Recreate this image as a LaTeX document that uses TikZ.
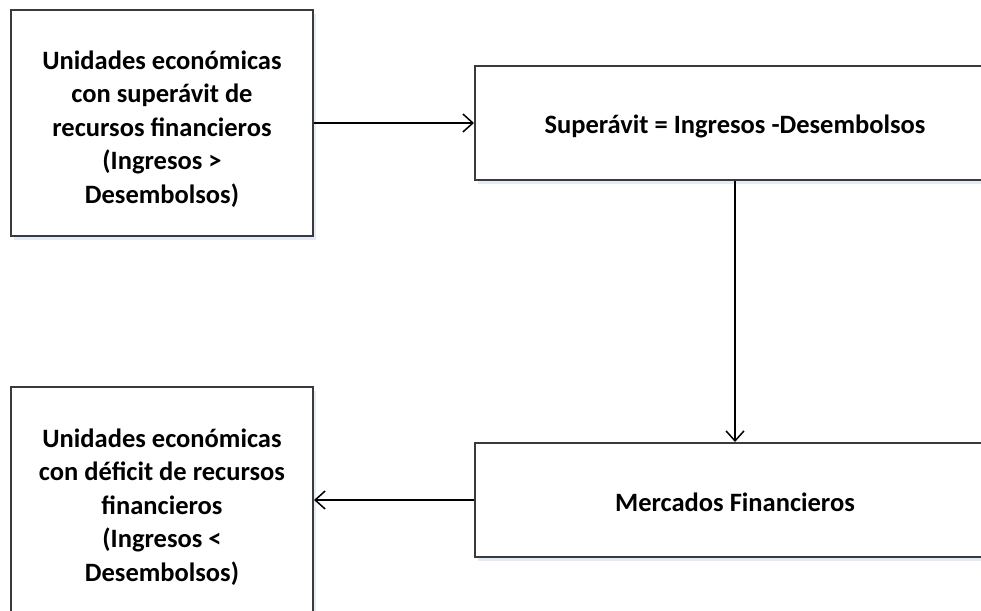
\documentclass[tikz,border=0pt]{standalone}
\usepackage{fontspec}
\setmainfont{Carlito}
\usetikzlibrary{arrows.meta,shadows}
\definecolor{edge}{HTML}{3A3A3A}
\definecolor{shade}{HTML}{E2EBF6}
\begin{document}
\begin{tikzpicture}[x=1pt,y=-1pt,
  box/.style={draw=edge, line width=2pt, fill=white, inner sep=0pt,
    drop shadow={shadow xshift=3pt, shadow yshift=-4pt, fill=shade, opacity=1}},
  caption/.style={align=center, inner sep=0pt,
    font=\fontsize{26.5}{33.5}\selectfont\bfseries},
  link/.style={line width=1.5pt, -{Straight Barb[length=10pt,width=18pt,line width=1.5pt]}}]
  \useasboundingbox (0,0) rectangle (981,610);
  \clip (0,0) rectangle (981,610);

  % units with a surplus of funds
  \node[box, minimum width=302pt, minimum height=226pt] (surplus) at (162,123) {};
  \node[caption] (surplustext) at ([yshift=-6pt]surplus.center)
    {Unidades económicas\\con superávit de\\recursos financieros\\(Ingresos >\\Desembolsos)};
  % surplus definition
  \node[box, minimum width=520pt, minimum height=114pt] (def) at (735,123) {};
  \node[caption] (deftext) at ([yshift=-3pt]def.center)
    {Superávit = Ingresos -Desembolsos};
  % financial markets
  \node[box, minimum width=520pt, minimum height=114pt] (markets) at (735,500) {};
  \node[caption] (marketstext) at ([yshift=-2pt]markets.center)
    {Mercados Financieros};
  % units with a deficit of funds
  \node[box, minimum width=302pt, minimum height=228pt] (deficit) at (162,501) {};
  \node[caption] (deficittext) at ([yshift=-6pt]deficit.center)
    {Unidades económicas\\con déficit de recursos\\financieros\\(Ingresos <\\Desembolsos)};

  \draw[link] (surplus.east) -- (def.west);
  \draw[link] (def.south) -- (markets.north);
  \draw[link] (markets.west) -- (markets.west -| deficit.east);
\end{tikzpicture}
\end{document}
